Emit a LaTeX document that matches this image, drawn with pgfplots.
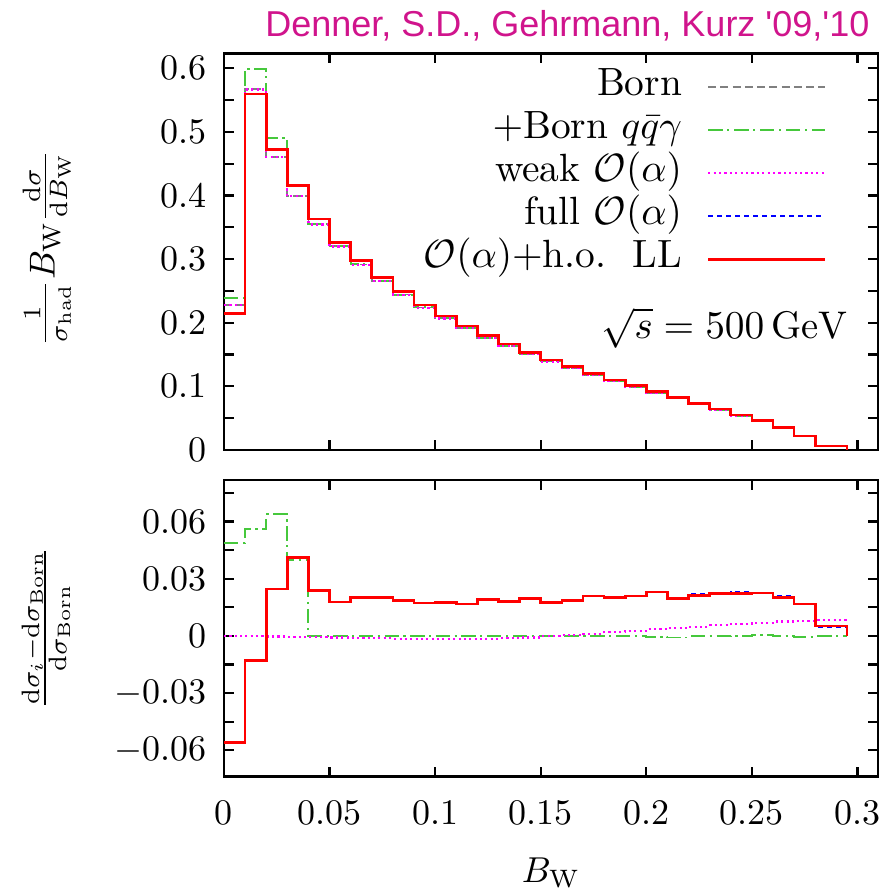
\documentclass[border=0pt]{standalone}
\usepackage{fontspec}
\usepackage{pgfplots}
\pgfplotsset{compat=1.18}
\newfontfamily\titlefont{Liberation Sans}
\definecolor{titlemag}{RGB}{208,20,140}
\definecolor{borngray}{RGB}{128,128,128}
\definecolor{qgreen}{RGB}{70,200,60}
\definecolor{weakmag}{RGB}{255,0,255}
\definecolor{fullblue}{RGB}{0,0,255}
\definecolor{llred}{RGB}{255,0,0}
\pgfplotsset{
  bornst/.style={color=borngray, line width=0.5pt, dash pattern=on 2.2pt off 1.2pt},
  greenst/.style={color=qgreen, line width=0.55pt, dash pattern=on 4pt off 1.3pt on 0.6pt off 1.3pt},
  weakst/.style={color=weakmag, line width=0.6pt, dash pattern=on 0.6pt off 0.9pt},
  fullst/.style={color=fullblue, line width=0.6pt, dash pattern=on 1.4pt off 1.1pt},
  llst/.style={color=llred, line width=0.75pt},
  common/.style={
    scale only axis, width=181.67pt,
    xmin=0, xmax=0.3097,
    xtick={0,0.05,0.1,0.15,0.2,0.25,0.3},
    tick align=inside, major tick length=2.8pt, minor tick length=2.8pt,
    axis line style={line width=0.8pt},
    every tick/.style={black, line width=0.6pt},
    scaled x ticks=false, scaled y ticks=false,
    xticklabel style={/pgf/number format/fixed},
    yticklabel style={/pgf/number format/fixed, xshift=-1.4pt},
  },
}
\begin{document}
\begin{tikzpicture}
\useasboundingbox (0pt,-248.9pt) rectangle (248.9pt,0pt);
\node[anchor=base east, font=\titlefont\fontsize{10}{12}\selectfont, text=titlemag, inner sep=0pt] at (241.7pt,-10.1pt) {Denner, S.D., Gehrmann, Kurz '09,'10};
% top panel
\begin{axis}[common,
  at={(62.22pt,-125pt)}, anchor=south west,
  height=110.19pt,
  ymin=0, ymax=0.6236,
  xticklabels={},
  ytick={0,0.1,0.2,0.3,0.4,0.5,0.6},
  minor ytick={0.05,0.15,0.25,0.35,0.45,0.55},
  ylabel={$\frac{1}{\sigma_{\mathrm{had}}}B_{\mathrm{W}}\frac{\mathrm{d}\sigma}{\mathrm{d}B_{\mathrm{W}}}$},
  ylabel style={at={(axis description cs:-0.2706,0.509)}, anchor=center},
  legend cell align=right,
  legend plot pos=right,
  legend image code/.code={\draw[#1] (0pt,0pt) -- (32.4pt,0pt);},
  legend style={draw=none, fill=none, at={(axis description cs:0.922,0.972)}, anchor=north east,
    inner sep=0pt, column sep=6.5pt, row sep=0pt, font=\fontsize{10.95}{13}\selectfont,
    nodes={inner sep=0.4pt, text height=7.9pt, text depth=3.3pt}},
]
\addplot[bornst, const plot] coordinates {(0,0.2278)(0.01,0.5669)(0.02,0.4612)(0.03,0.3991)(0.04,0.3546)(0.05,0.3203)(0.06,0.2917)(0.07,0.2660)(0.08,0.2444)(0.09,0.2241)(0.10,0.2070)(0.11,0.1917)(0.12,0.1766)(0.13,0.1636)(0.14,0.1506)(0.15,0.1391)(0.16,0.1286)(0.17,0.1180)(0.18,0.1078)(0.19,0.0989)(0.20,0.0896)(0.21,0.0812)(0.22,0.0719)(0.23,0.0630)(0.24,0.0538)(0.25,0.0450)(0.26,0.0349)(0.27,0.0216)(0.28,0.0063)(0.295,0.0063)};
\addlegendentry{Born}
\addplot[greenst, const plot] coordinates {(0,0.2389)(0.01,0.5987)(0.02,0.4906)(0.03,0.4150)(0.04,0.3547)(0.05,0.3203)(0.06,0.2918)(0.07,0.2660)(0.08,0.2444)(0.09,0.2241)(0.10,0.2070)(0.11,0.1917)(0.12,0.1766)(0.13,0.1636)(0.14,0.1506)(0.15,0.1391)(0.16,0.1286)(0.17,0.1180)(0.18,0.1078)(0.19,0.0989)(0.20,0.0896)(0.21,0.0811)(0.22,0.0719)(0.23,0.0630)(0.24,0.0538)(0.25,0.0450)(0.26,0.0349)(0.27,0.0216)(0.28,0.0063)(0.295,0.0063)};
\addlegendentry{$+$Born $q\bar{q}\gamma$}
\addplot[weakst, const plot] coordinates {(0,0.2278)(0.01,0.5668)(0.02,0.4611)(0.03,0.3989)(0.04,0.3544)(0.05,0.3200)(0.06,0.2914)(0.07,0.2657)(0.08,0.2441)(0.09,0.2238)(0.10,0.2067)(0.11,0.1914)(0.12,0.1763)(0.13,0.1634)(0.14,0.1505)(0.15,0.1391)(0.16,0.1287)(0.17,0.1181)(0.18,0.1080)(0.19,0.0992)(0.20,0.0899)(0.21,0.0815)(0.22,0.0723)(0.23,0.0634)(0.24,0.0541)(0.25,0.0453)(0.26,0.0352)(0.27,0.0218)(0.28,0.0063)(0.295,0.0063)};
\addlegendentry{weak $\mathcal{O}(\alpha)$}
\addplot[fullst, const plot] coordinates {(0,0.2150)(0.01,0.5596)(0.02,0.4726)(0.03,0.4155)(0.04,0.3630)(0.05,0.3260)(0.06,0.2976)(0.07,0.2714)(0.08,0.2490)(0.09,0.2280)(0.10,0.2106)(0.11,0.1949)(0.12,0.1800)(0.13,0.1666)(0.14,0.1535)(0.15,0.1415)(0.16,0.1310)(0.17,0.1205)(0.18,0.1100)(0.19,0.1010)(0.20,0.0917)(0.21,0.0828)(0.22,0.0735)(0.23,0.0644)(0.24,0.0550)(0.25,0.0460)(0.26,0.0356)(0.27,0.0220)(0.28,0.0063)(0.295,0.0063)};
\addlegendentry{full $\mathcal{O}(\alpha)$}
\addplot[llst, const plot] coordinates {(0,0.2150)(0.01,0.5596)(0.02,0.4726)(0.03,0.4155)(0.04,0.3630)(0.05,0.3260)(0.06,0.2976)(0.07,0.2714)(0.08,0.2489)(0.09,0.2280)(0.10,0.2106)(0.11,0.1949)(0.12,0.1800)(0.13,0.1666)(0.14,0.1535)(0.15,0.1415)(0.16,0.1310)(0.17,0.1205)(0.18,0.1100)(0.19,0.1010)(0.20,0.0917)(0.21,0.0828)(0.22,0.0734)(0.23,0.0644)(0.24,0.0550)(0.25,0.0460)(0.26,0.0356)(0.27,0.0220)(0.28,0.0063)(0.295,0.0063)(0.295,0)};
\addlegendentry{$\mathcal{O}(\alpha)$+h.o.\ \ LL}
\node[anchor=east, inner sep=0pt, font=\fontsize{10.7}{13}\selectfont] at (axis cs:0.2955,0.192) {$\sqrt{s}=500\,\mathrm{GeV}$};
\end{axis}
% bottom panel
\begin{axis}[common,
  at={(62.22pt,-215.75pt)}, anchor=south west,
  height=82.41pt,
  ymin=-0.0738, ymax=0.0818,
  xticklabels={0,0.05,0.1,0.15,0.2,0.25,0.3},
  xticklabel style={yshift=-3pt},
  ytick={-0.06,-0.03,0,0.03,0.06},
  minor ytick={-0.075,-0.045,-0.015,0.015,0.045,0.075},
  xlabel={$B_{\mathrm{W}}$},
  xlabel style={at={(axis description cs:0.5,-0.325)}, anchor=center},
  ylabel={$\frac{\mathrm{d}\sigma_i-\mathrm{d}\sigma_{\mathrm{Born}}}{\mathrm{d}\sigma_{\mathrm{Born}}}$},
  ylabel style={at={(axis description cs:-0.272,0.501)}, anchor=center},
]
\addplot[greenst, const plot] coordinates {(0,0.0489)(0.01,0.0560)(0.02,0.0638)(0.03,0.0399)(0.04,0.0002)(0.05,0.0001)(0.06,0.0002)(0.07,0)(0.08,0.0001)(0.09,0)(0.10,0.0002)(0.11,0.0001)(0.12,0)(0.13,0.0001)(0.14,0)(0.15,0)(0.16,0)(0.17,0.0001)(0.18,0)(0.19,0)(0.20,-0.0003)(0.21,-0.0008)(0.22,-0.0002)(0.23,0)(0.24,0.0001)(0.25,0.0006)(0.26,0.0002)(0.27,-0.0003)(0.28,-0.0002)(0.295,-0.0002)};
\addplot[weakst, const plot] coordinates {(0,0)(0.01,-0.0002)(0.02,-0.0003)(0.03,-0.0004)(0.04,-0.0006)(0.05,-0.0008)(0.06,-0.0010)(0.07,-0.0012)(0.08,-0.0014)(0.09,-0.0015)(0.10,-0.0016)(0.11,-0.0016)(0.12,-0.0015)(0.13,-0.0012)(0.14,-0.0008)(0.15,-0.0002)(0.16,0.0005)(0.17,0.0012)(0.18,0.0019)(0.19,0.0026)(0.20,0.0035)(0.21,0.0042)(0.22,0.0049)(0.23,0.0056)(0.24,0.0063)(0.25,0.0070)(0.26,0.0076)(0.27,0.0080)(0.28,0.0084)(0.295,0.0084)};
\addplot[fullst, const plot] coordinates {(0,-0.0560)(0.01,-0.0129)(0.02,0.0247)(0.03,0.0411)(0.04,0.0238)(0.05,0.0178)(0.06,0.0203)(0.07,0.0203)(0.08,0.0188)(0.09,0.0173)(0.10,0.0175)(0.11,0.0168)(0.12,0.0190)(0.13,0.0182)(0.14,0.0196)(0.15,0.0175)(0.16,0.0185)(0.17,0.0210)(0.18,0.0201)(0.19,0.0210)(0.20,0.0231)(0.21,0.0196)(0.22,0.0222)(0.23,0.0224)(0.24,0.0228)(0.25,0.0226)(0.26,0.0211)(0.27,0.0168)(0.28,0.0049)(0.295,0)};
\addplot[llst, const plot] coordinates {(0,-0.0560)(0.01,-0.0129)(0.02,0.0247)(0.03,0.0411)(0.04,0.0238)(0.05,0.0178)(0.06,0.0203)(0.07,0.0203)(0.08,0.0185)(0.09,0.0173)(0.10,0.0175)(0.11,0.0168)(0.12,0.0190)(0.13,0.0182)(0.14,0.0196)(0.15,0.0175)(0.16,0.0185)(0.17,0.0210)(0.18,0.0201)(0.19,0.0210)(0.20,0.0231)(0.21,0.0196)(0.22,0.0211)(0.23,0.0224)(0.24,0.0222)(0.25,0.0226)(0.26,0.0203)(0.27,0.0168)(0.28,0.0052)(0.295,0)};
\end{axis}
\end{tikzpicture}
\end{document}
